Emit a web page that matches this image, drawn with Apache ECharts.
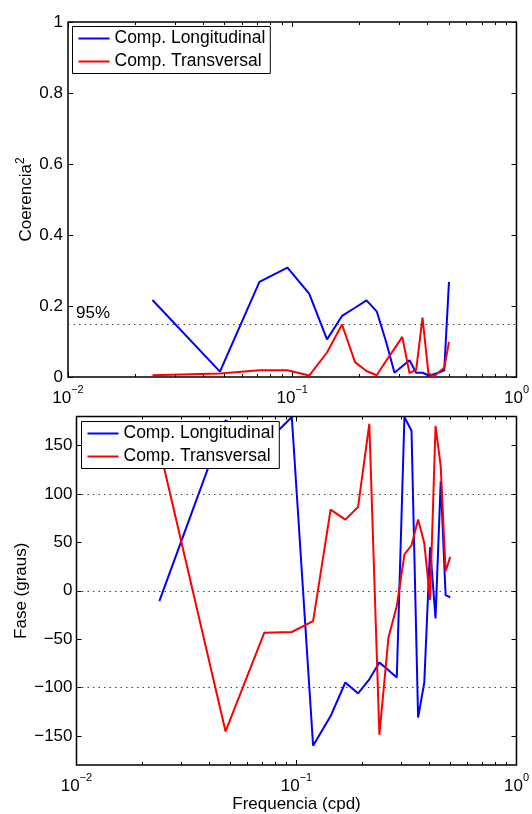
<!DOCTYPE html>
<html><head><meta charset="utf-8">
<script src="https://cdn.jsdelivr.net/npm/echarts@6/dist/echarts.min.js"></script>
<style>html,body{margin:0;padding:0;background:#fff}#c{width:532px;height:814px}</style>
</head><body><div id="c"></div>
<script>
// ---- data ----
const freq = [0.0238, 0.0476, 0.0714, 0.0952, 0.1190, 0.1429, 0.1667, 0.1905, 0.2143, 0.2381, 0.2619,
              0.2857, 0.3095, 0.3333, 0.3571, 0.3810, 0.4048, 0.4286, 0.4524, 0.4762, 0.5000];
const cohLong  = [0.217, 0.015, 0.268, 0.308, 0.235, 0.106, 0.172, 0.195, 0.216, 0.185, 0.100,
                  0.012, 0.030, 0.047, 0.012, 0.012, 0.005, 0.008, 0.013, 0.019, 0.268];
const cohTrans = [0.005, 0.010, 0.019, 0.019, 0.004, 0.069, 0.148, 0.042, 0.017, 0.005, 0.045,
                  0.080, 0.113, 0.011, 0.021, 0.167, 0.010, 0.001, 0.015, 0.026, 0.099];
const phaseLong  = [-10.7, 176, 151, 179.5, -160, -129.5, -94.8, -106, -91.5, -74.2, -82,
                    -89.5, 179.5, 165.3, -131, -94.8, 45, -28.5, 113, -4.5, -6.8];
const phaseTrans = [148, -145.3, -43.3, -42.6, -31.3, 83.8, 73.5, 86.6, 172.5, -148.8, -48.4,
                    -15.8, 37.5, 47, 73.5, 49, -9.5, 170.4, 128.5, 20.3, 35];
const seriesNames = ['Comp. Longitudinal', 'Comp. Transversal'];
const xMajor = [0.01, 0.1, 1];
const xMinor = [0.02, 0.03, 0.04, 0.05, 0.06, 0.07, 0.08, 0.09, 0.2, 0.3, 0.4, 0.5, 0.6, 0.7, 0.8, 0.9];
const cohTicks = [0, 0.2, 0.4, 0.6, 0.8, 1];
const phaseTicks = [-150, -100, -50, 0, 50, 100, 150];
const phaseRefLines = [100, 0, -100];
const coh95 = 0.155;
const coh95Label = '95%';

// ---- styling ----
const FONT = 'Liberation Sans';
const BLUE = '#0000ff', RED = '#ff0000';
const supRich = {
  b: {fontFamily: FONT, fontSize: 17, lineHeight: 17, padding: [6, 0, 0, 0], color: '#000'},
  s: {fontFamily: FONT, fontSize: 11, lineHeight: 11, padding: [0, 0, 12, 0], color: '#000'}
};
function expLabel(v) {
  const e = Math.round(Math.log10(v));
  const s = e < 0 ? '\u2212' + (-e) : String(e);
  return '{b|10}{s|' + s + '}';
}
function minus(v) { return String(v).replace('-', '\u2212'); }
const tickStyle = {color: '#000', width: 1};
const noLine = {show: false, onZero: false};

function xAxes(gi, name) {
  const common = {type: 'log', logBase: 10, min: 0.01, max: 1, gridIndex: gi,
                  splitLine: {show: false}, axisLine: noLine};
  return [
    Object.assign({}, common, {position: 'bottom',
      axisTick: {show: true, inside: true, length: 5, lineStyle: tickStyle, customValues: xMajor},
      axisLabel: {show: true, margin: 10, customValues: xMajor, formatter: expLabel, rich: supRich},
      name: name, nameLocation: 'middle', nameGap: 31, nameMoveOverlap: false,
      nameTextStyle: {fontFamily: FONT, fontSize: 17, color: '#000'}}),
    Object.assign({}, common, {position: 'bottom',
      axisTick: {show: true, inside: true, length: 3, lineStyle: tickStyle, customValues: xMinor},
      axisLabel: {show: false}}),
    Object.assign({}, common, {position: 'top',
      axisTick: {show: true, inside: true, length: 5, lineStyle: tickStyle, customValues: xMajor},
      axisLabel: {show: false}}),
    Object.assign({}, common, {position: 'top',
      axisTick: {show: true, inside: true, length: 3, lineStyle: tickStyle, customValues: xMinor},
      axisLabel: {show: false}})
  ];
}

const yAxes = [
  {type: 'value', gridIndex: 0, position: 'left', min: 0, max: 1, interval: 0.2,
   axisLine: noLine, splitLine: {show: false},
   axisTick: {show: true, inside: true, length: 5, lineStyle: tickStyle, customValues: cohTicks},
   axisLabel: {margin: 5, fontFamily: FONT, fontSize: 17, color: '#000', customValues: cohTicks},
   name: 'Coerencia{s|2}', nameLocation: 'middle', nameGap: 31, nameMoveOverlap: false,
   nameTextStyle: {fontFamily: FONT, fontSize: 17, color: '#000',
     rich: {s: {fontFamily: FONT, fontSize: 12, color: '#000', padding: [0, 0, 10, 0]}}}},
  {type: 'value', gridIndex: 0, position: 'right', min: 0, max: 1, interval: 0.2,
   axisLine: noLine, splitLine: {show: false},
   axisTick: {show: true, inside: true, length: 5, lineStyle: tickStyle, customValues: cohTicks},
   axisLabel: {show: false}},
  {type: 'value', gridIndex: 1, position: 'left', min: -180, max: 180,
   axisLine: noLine, splitLine: {show: false},
   axisTick: {show: true, inside: true, length: 5, lineStyle: tickStyle, customValues: phaseTicks},
   axisLabel: {margin: 4, fontFamily: FONT, fontSize: 17, color: '#000', customValues: phaseTicks, formatter: minus},
   name: 'Fase (graus)', nameLocation: 'middle', nameGap: 47, nameMoveOverlap: false,
   nameTextStyle: {fontFamily: FONT, fontSize: 17, color: '#000'}},
  {type: 'value', gridIndex: 1, position: 'right', min: -180, max: 180,
   axisLine: noLine, splitLine: {show: false},
   axisTick: {show: true, inside: true, length: 5, lineStyle: tickStyle, customValues: phaseTicks},
   axisLabel: {show: false}}
];

function lineSeries(name, color, xi, yi, ys, extra) {
  return Object.assign({
    type: 'line', name: name, xAxisIndex: xi, yAxisIndex: yi,
    data: freq.map((f, i) => [f, ys[i]]),
    symbol: 'none', animation: false,
    lineStyle: {color: color, width: 2}, itemStyle: {color: color}
  }, extra || {});
}

const dotted = {color: '#444', width: 1, type: [1.5, 4]};

const legendCommon = {
  data: seriesNames, orient: 'vertical', icon: 'rect', itemWidth: 31, itemHeight: 2, itemGap: 5,
  padding: [3, 5, 3, 6], backgroundColor: '#fff', borderColor: '#000', borderWidth: 1,
  borderRadius: 0, selectedMode: false,
  textStyle: {fontFamily: FONT, fontSize: 17.5, color: '#000', lineHeight: 17}
};

const option = {
  backgroundColor: '#fff',
  animation: false,
  grid: [
    {left: 68, top: 22, width: 451, height: 355, show: true, borderColor: '#000', borderWidth: 1.5, containLabel: false},
    {left: 76.5, top: 416.5, width: 442.5, height: 348.5, show: true, borderColor: '#000', borderWidth: 1.5, containLabel: false}
  ],
  xAxis: xAxes(0, '').concat(xAxes(1, 'Frequencia (cpd)')),
  yAxis: yAxes,
  legend: [
    Object.assign({}, legendCommon, {left: 72.5, top: 26.5}),
    Object.assign({}, legendCommon, {left: 81.5, top: 421.5})
  ],
  series: [
    lineSeries(seriesNames[0], BLUE, 0, 0, cohLong, {
      markLine: {silent: true, symbol: ['none', 'none'], lineStyle: dotted,
        label: {show: true, position: 'insideStartTop', formatter: coh95Label, distance: [8, 2],
                fontFamily: FONT, fontSize: 17, color: '#000'},
        data: [{yAxis: coh95}]}
    }),
    lineSeries(seriesNames[1], RED, 0, 0, cohTrans),
    lineSeries(seriesNames[0], BLUE, 4, 2, phaseLong, {
      markLine: {silent: true, symbol: ['none', 'none'], lineStyle: dotted, label: {show: false},
        data: phaseRefLines.map(v => ({yAxis: v}))}
    }),
    lineSeries(seriesNames[1], RED, 4, 2, phaseTrans)
  ]
};

const chart = echarts.init(document.getElementById('c'), null, {renderer: 'canvas'});
chart.setOption(option);
</script>
</body></html>
